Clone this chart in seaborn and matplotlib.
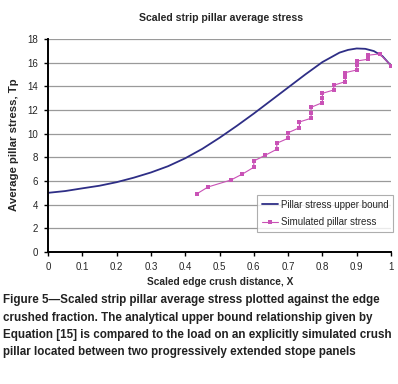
import numpy as np
import pandas as pd
import matplotlib
matplotlib.use('Agg')
import matplotlib.pyplot as plt
import seaborn as sns

# upper bound curve
x_bound = [0, 0.05, 0.1, 0.15, 0.2, 0.25, 0.3, 0.35, 0.4, 0.45, 0.5, 0.55, 0.6,
           0.65, 0.7, 0.75, 0.8, 0.85, 0.875, 0.9, 0.925, 0.95, 0.975, 1.0]
y_bound = [5.0, 5.15, 5.38, 5.6, 5.9, 6.28, 6.72, 7.25, 7.92, 8.72, 9.65, 10.65,
           11.7, 12.8, 13.9, 15.0, 16.05, 16.85, 17.08, 17.2, 17.17, 16.98,
           16.55, 15.75]

# simulated crush pillar
x_sim = [0.433, 0.467, 0.533, 0.567, 0.6, 0.6, 0.633, 0.667, 0.667, 0.7, 0.7,
         0.733, 0.733, 0.767, 0.767, 0.767, 0.8, 0.8, 0.8, 0.833, 0.833,
         0.867, 0.867, 0.867, 0.9, 0.9, 0.9, 0.933, 0.933, 0.967, 1.0]
y_sim = [4.9, 5.5, 6.08, 6.59, 7.16, 7.69, 8.17, 8.68, 9.19, 9.61, 10.08,
         10.5, 10.99, 11.3, 11.78, 12.23, 12.62, 12.99, 13.41, 13.69, 14.09,
         14.4, 14.77, 15.16, 15.38, 15.78, 16.14, 16.29, 16.63, 16.74, 15.75]

x_ticks = [0, 0.1, 0.2, 0.3, 0.4, 0.5, 0.6, 0.7, 0.8, 0.9, 1]
x_ticklabels = ['0', '0.1', '0.2', '0.3', '0.4', '0.5', '0.6', '0.7', '0.8', '0.9', '1']
y_ticks = [0, 2, 4, 6, 8, 10, 12, 14, 16, 18]

caption = ["Figure 5\u2014Scaled strip pillar average stress plotted against the edge",
           "crushed fraction. The analytical upper bound relationship given by",
           "Equation [15] is compared to the load on an explicitly simulated crush",
           "pillar located between two progressively extended stope panels"]

sns.set_style('white')
plt.rcParams['font.family'] = ['Liberation Sans', 'DejaVu Sans']

bound = pd.DataFrame({'x': x_bound, 'y': y_bound})
sim = pd.DataFrame({'x': x_sim, 'y': y_sim})

fig = plt.figure(figsize=(3.98, 3.84), dpi=100)
ax = fig.add_axes([48 / 398, 1 - 252 / 384, 343 / 398, 213 / 384])

sns.lineplot(data=bound, x='x', y='y', ax=ax, color='#2e2e86', linewidth=1.3,
             label='Pillar stress upper bound', estimator=None, sort=False)
sns.lineplot(data=sim, x='x', y='y', ax=ax, color='#c952b6', linewidth=0.8,
             marker='s', markersize=3.2, markeredgewidth=0,
             label='Simulated pillar stress', estimator=None, sort=False)

ax.set_xlim(0, 1)
ax.set_ylim(0, 18)
ax.set_xticks(x_ticks)
ax.set_xticklabels(x_ticklabels)
ax.set_yticks(y_ticks)
ax.yaxis.grid(True, color='#9a9a9a', linewidth=0.9)
ax.xaxis.grid(False)
for s in ['top', 'right']:
    ax.spines[s].set_visible(False)
for s in ['left', 'bottom']:
    ax.spines[s].set_color('black')
    ax.spines[s].set_linewidth(1.4)
ax.tick_params(axis='both', direction='out', length=3, width=1, color='black',
               labelsize=7, pad=4, bottom=True, left=True)
ax.set_xlabel('')
ax.set_ylabel('')

leg = ax.legend(loc='lower right', bbox_to_anchor=(1.006, 0.094), fontsize=7,
                frameon=True, fancybox=False, borderpad=0.5, handlelength=1.6,
                handletextpad=0.3, labelspacing=0.75, borderaxespad=0)
leg.get_frame().set_edgecolor('#9a9a9a')
leg.get_frame().set_linewidth(0.8)

fig.text(0.555, 1 - 18 / 384, 'Scaled strip pillar average stress', ha='center',
         va='center', fontsize=7.6, fontweight='bold')
fig.text(0.553, 1 - 282 / 384, 'Scaled edge crush distance, X', ha='center',
         va='center', fontsize=7.3, fontweight='bold')
fig.text(14 / 398, 1 - 145 / 384, 'Average pillar stress, Tp', ha='center',
         va='center', rotation=90, fontsize=8.2, fontweight='bold')

for i, line in enumerate(caption):
    fig.text(3 / 398, 1 - (300 + 17.5 * i) / 384, line, ha='left', va='center',
             fontsize=8.4, fontweight='bold', color='#222222')

fig.savefig('out.png', dpi=100)
